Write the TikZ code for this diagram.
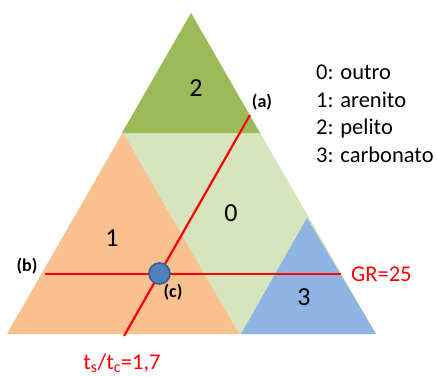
\documentclass[tikz,border=0pt]{standalone}
\usepackage{fontspec}
\setmainfont{Carlito}
\definecolor{outro}{HTML}{D7E4BD}
\definecolor{arenito}{HTML}{FAC090}
\definecolor{pelito}{HTML}{9BBB59}
\definecolor{carbonato}{HTML}{8EB4E3}
\definecolor{ponto}{HTML}{4F81BD}
\definecolor{pontoborda}{HTML}{385D8A}
\tikzset{
  corte/.style={draw=red,line width=2.2pt},
  rotulo/.style={font=\fontsize{26}{26}\selectfont,inner sep=0pt},
  letra/.style={font=\fontsize{18}{18}\selectfont\bfseries,inner sep=0pt},
  legenda/.style={font=\fontsize{22.5}{22.5}\selectfont,inner sep=0pt,anchor=west},
  ponto/.style={circle,fill=ponto,draw=pontoborda,line width=1.6pt,minimum size=21pt,inner sep=0pt}
}
\begin{document}
\begin{tikzpicture}[x=1pt,y=-1pt]
\useasboundingbox (0,0) rectangle (437,376);
% regioes do triangulo
\fill[outro] (191,13) -- (376,334) -- (7,334) -- cycle;
\fill[pelito] (191,13) -- (260,133) -- (122,133) -- cycle;
\fill[arenito] (7,334) -- (123,133) -- (239,334) -- cycle;
\fill[carbonato] (241,334) -- (307,218) -- (376,334) -- cycle;
\node[rotulo] (n2) at (196,88) {2};
\node[rotulo] (n1) at (112,238) {1};
\node[rotulo] (n0) at (231,213) {0};
\node[rotulo] (n3) at (304,297) {3};
% cortes
\coordinate (atopo) at (250,115);
\coordinate (abase) at (124,336);
\coordinate (besq) at (45,274);
\coordinate (bdir) at (341,274);
\draw[corte] (atopo) -- (abase);
\draw[corte] (besq) -- (bdir);
\node[ponto] (c) at (159.5,273.5) {};
\node[letra] (la) at (262,102) {(a)};
\node[letra] (lb) at (27,266) {(b)};
\node[letra] (lc) at (173,292) {(c)};
\node[font=\fontsize{22.5}{22.5}\selectfont,text=red,anchor=west,inner sep=0pt] (gr) at ([xshift=10pt]bdir) {GR=25};
\node[font=\fontsize{22.5}{22.5}\selectfont,text=red,inner sep=0pt] (ts) at (122,363) {t\textsubscript{s}/t\textsubscript{c}=1,7};
% legenda
\node[legenda] (l0) at (316,72) {0: outro};
\node[legenda] (l1) at (316,100) {1: arenito};
\node[legenda] (l2) at (316,128) {2: pelito};
\node[legenda] (l3) at (316,155) {3: carbonato};
\end{tikzpicture}
\end{document}
